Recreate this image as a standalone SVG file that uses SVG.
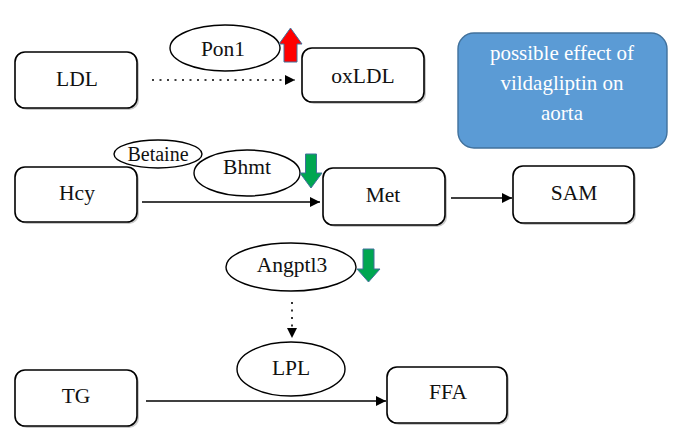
<svg xmlns="http://www.w3.org/2000/svg" width="681" height="446" viewBox="0 0 681 446" font-family="'Liberation Serif', 'Times New Roman', serif">
<defs>
<style>
.box{fill:#fff;stroke:#000;stroke-width:1.6}
.shadow{fill:#c8c8c8;stroke:none}
.ell{fill:#fff;stroke:#000;stroke-width:1.4}
.lbl{font-family:'Liberation Serif','Times New Roman',serif;font-size:21.5px;fill:#111;text-anchor:middle}
.wlbl{font-family:'Liberation Serif','Times New Roman',serif;font-size:21px;fill:#fff;text-anchor:middle}
.line{fill:none;stroke:#000;stroke-width:1.6}
.dot{fill:none;stroke:#000;stroke-width:1.6;stroke-dasharray:2 5.5}
.up{fill:#ff0000;stroke:#41719c;stroke-width:1}
.down{fill:#00a651;stroke:#41719c;stroke-width:1}
</style>
<marker id="ah" viewBox="0 0 10 10" refX="10" refY="5" markerWidth="10" markerHeight="10" markerUnits="userSpaceOnUse" orient="auto">
<path d="M0,0 L10,5 L0,10 z" fill="#000"/>
</marker>
</defs>
<rect width="681" height="446" fill="#fff"/>

<g id="connectors">
<line class="dot" x1="152" y1="80" x2="295" y2="80" marker-end="url(#ah)"/>
<line class="line" x1="142" y1="202" x2="320" y2="202" marker-end="url(#ah)"/>
<line class="line" x1="451" y1="198" x2="512" y2="198" marker-end="url(#ah)"/>
<line class="dot" x1="292" y1="302" x2="292" y2="338" marker-end="url(#ah)"/>
<line class="line" x1="146" y1="401" x2="386" y2="401" marker-end="url(#ah)"/>
</g>

<g id="LDL">
<rect class="shadow" x="17" y="54" width="122" height="56" rx="10"/>
<rect class="box" x="15" y="52" width="122" height="56" rx="10"/>
<text class="lbl" x="77" y="86">LDL</text>
</g>
<g id="oxLDL">
<rect class="shadow" x="304" y="50" width="122" height="54" rx="10"/>
<rect class="box" x="302" y="48" width="122" height="54" rx="10"/>
<text class="lbl" x="363" y="83">oxLDL</text>
</g>
<g id="Pon1">
<ellipse class="ell" cx="225" cy="48" rx="55" ry="23"/>
<text class="lbl" x="223" y="56">Pon1</text>
</g>
<g id="Pon1-up">
<path class="up" d="M290.5,28 L302,44 L297,44 L297,62 L284,62 L284,44 L279,44 Z"/>
</g>

<g id="legend">
<rect x="458" y="33" width="209" height="115" rx="16" fill="#5b9bd5" stroke="#41719c" stroke-width="1.4"/>
<text class="wlbl" x="562" y="60">possible effect of</text>
<text class="wlbl" x="562" y="90">vildagliptin on</text>
<text class="wlbl" x="562" y="120">aorta</text>
</g>

<g id="Hcy">
<rect class="shadow" x="17" y="169" width="122" height="55" rx="10"/>
<rect class="box" x="15" y="167" width="122" height="55" rx="10"/>
<text class="lbl" x="77" y="200">Hcy</text>
</g>
<g id="Betaine">
<ellipse class="ell" cx="158" cy="154" rx="44" ry="14"/>
<text class="lbl" x="158" y="161" style="font-size:20px">Betaine</text>
</g>
<g id="Bhmt">
<ellipse class="ell" cx="247" cy="173" rx="53" ry="23"/>
<text class="lbl" x="247" y="174">Bhmt</text>
</g>
<g id="Bhmt-down">
<path class="down" d="M311,188 L322,173 L316.5,173 L316.5,154 L305.5,154 L305.5,173 L300,173 Z"/>
</g>
<g id="Met">
<rect class="shadow" x="325" y="170" width="122" height="57" rx="10"/>
<rect class="box" x="323" y="168" width="122" height="57" rx="10"/>
<text class="lbl" x="383" y="202">Met</text>
</g>
<g id="SAM">
<rect class="shadow" x="515" y="168" width="121" height="57" rx="10"/>
<rect class="box" x="513" y="166" width="121" height="57" rx="10"/>
<text class="lbl" x="574" y="200">SAM</text>
</g>

<g id="Angptl3">
<ellipse class="ell" cx="291" cy="267" rx="65" ry="24"/>
<text class="lbl" x="292" y="272">Angptl3</text>
</g>
<g id="Angptl3-down">
<path class="down" d="M368.5,282 L380,269 L374,269 L374,249 L363,249 L363,269 L357,269 Z"/>
</g>
<g id="LPL">
<ellipse class="ell" cx="291" cy="369" rx="54" ry="27"/>
<text class="lbl" x="291" y="375">LPL</text>
</g>
<g id="TG">
<rect class="shadow" x="17" y="372" width="122" height="56" rx="10"/>
<rect class="box" x="15" y="370" width="122" height="56" rx="10"/>
<text class="lbl" x="76" y="403">TG</text>
</g>
<g id="FFA">
<rect class="shadow" x="389" y="369" width="120" height="56" rx="10"/>
<rect class="box" x="387" y="367" width="120" height="56" rx="10"/>
<text class="lbl" x="448" y="399">FFA</text>
</g>
</svg>
